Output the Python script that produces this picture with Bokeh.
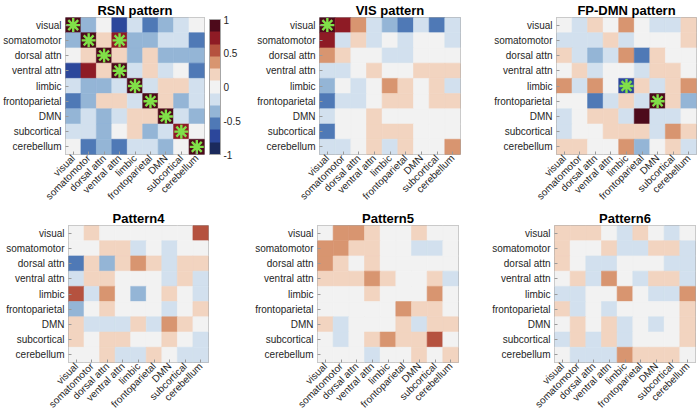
import math
from bokeh.plotting import figure
from bokeh.models import LinearColorMapper, ColorBar, FixedTicker, ColumnDataSource
from bokeh.layouts import column, row
from bokeh.embed import file_html
from bokeh.resources import INLINE

regions = ["visual", "somatomotor", "dorsal attn", "ventral attn", "limbic",
           "frontoparietal", "DMN", "subcortical", "cerebellum"]

titles = ["RSN pattern", "VIS pattern", "FP-DMN pattern", "Pattern4", "Pattern5", "Pattern6"]

rsn = [
    [0.95, -0.36, 0.0, -0.73, -0.18, -0.55, -0.36, -0.18, 0.0],
    [-0.36, 0.95, 0.18, 0.73, -0.36, -0.36, -0.18, -0.18, -0.55],
    [0.0, 0.18, 0.95, 0.18, -0.36, 0.18, -0.36, -0.36, -0.36],
    [-0.73, 0.73, 0.18, 0.95, -0.18, 0.18, -0.18, 0.0, -0.55],
    [-0.18, -0.36, -0.36, -0.18, 0.95, -0.18, 0.18, 0.18, -0.18],
    [-0.55, -0.36, 0.18, 0.18, -0.18, 0.95, 0.18, -0.36, -0.18],
    [-0.36, -0.18, -0.36, -0.18, 0.18, 0.18, 0.95, -0.18, -0.36],
    [-0.18, -0.18, -0.36, 0.0, 0.18, -0.36, -0.18, 0.73, 0.0],
    [0.0, -0.55, -0.36, -0.55, -0.18, -0.18, -0.36, 0.0, 0.95],
]
vis = [
    [0.95, 0.73, 0.36, -0.18, -0.36, -0.55, -0.18, -0.55, -0.18],
    [0.73, -0.18, 0.18, -0.18, 0.0, -0.18, 0.0, 0.0, -0.18],
    [0.36, 0.18, 0.0, 0.0, -0.18, -0.18, 0.0, 0.0, 0.0],
    [-0.18, -0.18, 0.0, 0.18, 0.0, 0.0, 0.18, 0.18, 0.18],
    [-0.36, 0.0, -0.18, 0.0, 0.36, 0.18, 0.0, 0.18, -0.18],
    [-0.55, -0.18, -0.18, 0.0, 0.18, 0.18, 0.0, 0.18, 0.18],
    [-0.18, 0.0, 0.0, 0.18, 0.0, 0.0, 0.0, 0.0, 0.0],
    [-0.55, 0.0, 0.0, 0.18, 0.18, 0.18, 0.0, 0.0, 0.0],
    [-0.18, -0.18, 0.0, 0.18, -0.18, 0.18, 0.0, 0.0, 0.36],
]
fpdmn = [
    [0.0, -0.18, 0.18, 0.0, 0.36, 0.0, -0.18, -0.18, 0.18],
    [-0.18, -0.18, -0.18, 0.18, -0.18, 0.0, 0.0, 0.0, 0.18],
    [0.18, -0.18, -0.36, -0.18, 0.36, -0.55, 0.18, 0.0, 0.0],
    [0.0, 0.18, -0.18, 0.0, 0.0, -0.18, 0.18, 0.18, 0.0],
    [0.36, -0.18, 0.36, 0.0, -0.73, 0.18, -0.18, 0.18, 0.36],
    [0.0, 0.0, -0.55, -0.18, 0.18, -0.18, 0.95, 0.18, -0.36],
    [-0.18, 0.0, 0.18, 0.18, -0.18, 0.95, -0.18, -0.18, 0.0],
    [-0.18, 0.0, 0.0, 0.18, 0.18, 0.18, -0.18, 0.36, 0.18],
    [0.18, 0.18, 0.0, 0.0, 0.36, -0.36, 0.0, 0.18, -0.18],
]
pattern4 = [
    [0.0, 0.18, 0.0, 0.0, 0.0, 0.0, 0.0, 0.0, 0.55],
    [0.0, 0.0, 0.18, 0.18, -0.18, 0.0, -0.18, 0.0, 0.0],
    [-0.55, 0.18, -0.36, 0.18, 0.36, 0.18, -0.18, 0.18, 0.18],
    [-0.18, 0.18, 0.18, 0.0, 0.0, 0.0, -0.18, 0.18, -0.18],
    [0.55, -0.18, 0.36, 0.0, -0.36, 0.0, 0.18, 0.0, -0.18],
    [-0.36, 0.0, 0.18, 0.0, 0.0, 0.0, -0.18, 0.0, 0.18],
    [0.18, -0.18, -0.18, -0.18, 0.18, -0.18, 0.36, 0.18, 0.0],
    [0.18, 0.0, 0.18, 0.18, 0.0, 0.0, 0.18, 0.0, -0.18],
    [0.0, 0.0, 0.18, -0.18, -0.18, 0.18, 0.0, -0.18, -0.18],
]
pattern5 = [
    [0.0, 0.36, 0.36, 0.18, 0.0, 0.0, 0.18, 0.0, 0.0],
    [0.36, 0.36, 0.18, 0.18, 0.0, 0.0, -0.18, -0.18, 0.0],
    [0.36, 0.18, 0.0, 0.18, 0.0, 0.0, 0.0, 0.0, 0.0],
    [0.18, 0.18, 0.18, 0.36, 0.18, 0.0, 0.0, 0.18, -0.18],
    [0.0, 0.0, 0.0, 0.18, 0.0, 0.0, 0.0, 0.36, 0.0],
    [0.0, 0.0, 0.0, 0.0, 0.0, 0.36, 0.18, 0.18, 0.0],
    [0.18, -0.18, 0.0, 0.0, 0.0, 0.18, -0.18, 0.18, 0.18],
    [0.0, -0.18, 0.0, 0.18, 0.36, 0.18, 0.18, 0.55, 0.0],
    [0.0, 0.0, 0.0, -0.18, 0.0, 0.0, 0.18, 0.0, 0.18],
]
pattern6 = [
    [0.18, 0.18, 0.18, 0.0, -0.18, 0.18, 0.0, -0.18, 0.0],
    [0.18, 0.0, 0.0, 0.18, -0.18, -0.18, 0.18, 0.18, -0.18],
    [0.18, 0.0, -0.18, -0.18, 0.0, 0.0, 0.0, -0.18, -0.18],
    [0.0, 0.18, -0.18, 0.36, 0.0, -0.18, 0.18, 0.18, -0.18],
    [-0.18, -0.18, 0.0, 0.0, 0.36, 0.0, -0.18, -0.18, 0.36],
    [0.18, -0.18, 0.0, -0.18, 0.0, 0.0, 0.0, 0.0, 0.18],
    [0.0, 0.18, 0.0, 0.18, -0.18, 0.0, -0.18, 0.0, 0.18],
    [-0.18, 0.18, -0.18, 0.18, -0.18, 0.0, 0.0, 0.0, 0.18],
    [0.0, -0.18, -0.18, -0.18, 0.36, 0.18, 0.18, 0.18, 0.0],
]
matrices = [rsn, vis, fpdmn, pattern4, pattern5, pattern6]

# significant cells (row, column) marked with an asterisk, per panel
sig_rsn = [(r, r) for r in regions] + [("somatomotor", "ventral attn")]
sig_vis = [("visual", "visual")]
sig_fpdmn = [("limbic", "limbic"), ("frontoparietal", "DMN")]
sig_cells = [sig_rsn, sig_vis, sig_fpdmn, [], [], []]

palette = ["#1b2a5c", "#2c479b", "#4f79b6", "#94b5d6", "#d2e0ee", "#f2f2f2",
           "#f2d4c0", "#d89570", "#b5523f", "#8e1b25", "#4d0a1b"]
cbar_ticks = [-1, -0.5, 0, 0.5, 1]
cbar_labels = ["-1", "-0.5", "0", "0.5", "1"]

FONT = "Liberation Sans"
TXT = "#262626"
FH = 137
mapper = LinearColorMapper(palette=palette, low=-1, high=1)


def make_panel(idx, left, fw, right):
    m = matrices[idx]
    xs, ys, vs = [], [], []
    for i, rname in enumerate(regions):
        for j, cname in enumerate(regions):
            xs.append(cname)
            ys.append(rname)
            vs.append(m[i][j])
    src = ColumnDataSource(dict(x=xs, y=ys, v=vs))
    p = figure(x_range=regions, y_range=list(reversed(regions)),
               frame_width=fw, frame_height=FH,
               min_border_left=left, min_border_right=right,
               min_border_top=0, min_border_bottom=0,
               toolbar_location=None, output_backend="svg",
               title=titles[idx])
    p.rect(x="x", y="y", width=1, height=1, source=src,
           fill_color={"field": "v", "transform": mapper},
           line_color={"field": "v", "transform": mapper}, line_width=0.6)
    sig = sig_cells[idx]
    if sig:
        p.scatter(x=[c for r, c in sig], y=[r for r, c in sig], marker="asterisk",
                  size=14, line_color="#80e048", line_width=2.4)
    p.title.text_font = FONT
    p.title.text_font_size = "13px"
    p.title.text_font_style = "bold"
    p.title.text_color = "black"
    p.title.align = "center"
    p.title.standoff = 0
    p.xgrid.visible = False
    p.ygrid.visible = False
    p.outline_line_color = "#a6a6a6"
    p.outline_line_width = 1
    for ax in (p.xaxis[0], p.yaxis[0]):
        ax.axis_line_color = None
        ax.major_tick_in = 3
        ax.major_tick_out = 0
        ax.major_tick_line_color = "#9a9a9a"
        ax.minor_tick_line_color = None
        ax.major_label_text_font = FONT
        ax.major_label_text_font_size = "10px"
        ax.major_label_text_color = TXT
        ax.major_label_standoff = 4
    p.xaxis.major_label_standoff = 2
    p.xaxis.major_label_orientation = math.pi / 4
    p.background_fill_color = "white"
    p.border_fill_color = "white"
    if idx == 0:
        cb = ColorBar(color_mapper=mapper, width=11, height=FH - 2,
                      location=(5, 0),
                      ticker=FixedTicker(ticks=cbar_ticks),
                      major_label_overrides={t: l for t, l in zip(cbar_ticks, cbar_labels)},
                      major_label_text_font=FONT, major_label_text_font_size="10px",
                      major_label_text_color=TXT, label_standoff=3,
                      major_tick_line_color=None, bar_line_color="#a6a6a6",
                      padding=0, margin=0, background_fill_alpha=0)
        p.add_layout(cb, "right")
    return p


f1 = make_panel(0, 63, 139, 50)
f2 = make_panel(1, 64, 141, 31)
f3 = make_panel(2, 64, 140, 4)
f4 = make_panel(3, 68, 140, 44)
f5 = make_panel(4, 64, 141, 31)
f6 = make_panel(5, 63, 141, 4)

layout = column(row(f1, f2, f3), row(f4, f5, f6))
open("out.html", "w").write(file_html(layout, INLINE))
